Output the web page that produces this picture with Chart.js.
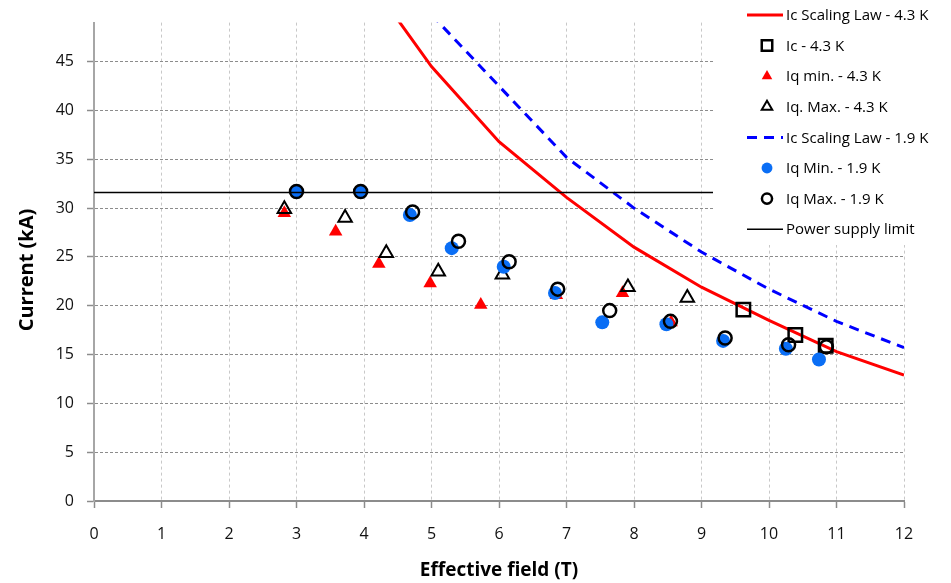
<!DOCTYPE html>
<html>
<head>
<meta charset="utf-8">
<script src="https://cdn.jsdelivr.net/npm/chart.js@4/dist/chart.umd.min.js"></script>
<style>
  body { margin: 0; background: #fff; }
  canvas { display: block; }
</style>
</head>
<body>
<canvas id="fieldChart" width="951" height="583"></canvas>
<script>
// scaling laws (piecewise, one value per tesla)
const law43Field = [4, 5, 6, 7, 8, 9, 10, 11, 12];
const law43Current = [54.1, 44.5, 36.8, 31.1, 26.0, 21.9, 18.5, 15.3, 12.9];
const law19Field = [5, 6, 7, 8, 9, 10, 11, 12];
const law19Current = [49.8, 42.5, 35.2, 30.0, 25.5, 21.7, 18.4, 15.7];

// measured points
const ic43Field = [9.62, 10.39, 10.84];
const ic43Current = [19.6, 17.0, 15.9];
const iqMin43Field = [2.82, 3.58, 4.22, 4.98, 5.73, 6.85, 7.83, 8.55];
const iqMin43Current = [29.5, 27.6, 24.3, 22.3, 20.1, 21.1, 21.3, 18.3];
const iqMax43Field = [2.82, 3.72, 4.33, 5.10, 6.05, 7.91, 8.79];
const iqMax43Current = [29.9, 29.0, 25.4, 23.5, 23.2, 21.9, 20.8];
const iqMin19Field = [3.0, 3.95, 4.68, 5.30, 6.07, 6.83, 7.53, 8.48, 9.32, 10.25, 10.74];
const iqMin19Current = [31.7, 31.7, 29.3, 25.9, 24.0, 21.3, 18.3, 18.1, 16.4, 15.6, 14.5];
const iqMax19Field = [3.0, 3.95, 4.72, 5.40, 6.15, 6.87, 7.64, 8.54, 9.35, 10.29, 10.85];
const iqMax19Current = [31.7, 31.7, 29.6, 26.6, 24.5, 21.7, 19.5, 18.4, 16.7, 16.0, 15.8];
const psField = [0, 12];
const psCurrent = [31.6, 31.6];

const xTicks = [0, 1, 2, 3, 4, 5, 6, 7, 8, 9, 10, 11, 12];
const yTicks = [0, 5, 10, 15, 20, 25, 30, 35, 40, 45];

const pts = (xs, ys) => xs.map((x, i) => ({ x: x, y: ys[i] }));

const datasets = [
  { label: 'Ic Scaling Law - 4.3 K', data: pts(law43Field, law43Current), showLine: true,
    borderColor: '#ff0000', borderWidth: 3, pointRadius: 0 },
  { label: 'Ic - 4.3 K', data: pts(ic43Field, ic43Current), pointStyle: 'rect',
    pointRadius: 9.5, borderColor: '#000', backgroundColor: 'rgba(0,0,0,0)', borderWidth: 2.5 },
  { label: 'Iq min. - 4.3 K', data: pts(iqMin43Field, iqMin43Current), pointStyle: 'triangle',
    pointRadius: 7.8, backgroundColor: '#ff0000', borderColor: '#ff0000', borderWidth: 0 },
  { label: 'Iq. Max. - 4.3 K', data: pts(iqMax43Field, iqMax43Current), pointStyle: 'triangle',
    pointRadius: 7.8, backgroundColor: 'rgba(0,0,0,0)', borderColor: '#000', borderWidth: 2 },
  { label: 'Ic Scaling Law - 1.9 K', data: pts(law19Field, law19Current), showLine: true,
    borderColor: '#0000ff', borderWidth: 3, borderDash: [10, 7], pointRadius: 0 },
  { label: 'Iq Min. - 1.9 K', data: pts(iqMin19Field, iqMin19Current), pointStyle: 'circle',
    pointRadius: 7, backgroundColor: '#0a6ef5', borderColor: '#0a6ef5', borderWidth: 0 },
  { label: 'Iq Max. - 1.9 K', data: pts(iqMax19Field, iqMax19Current), pointStyle: 'circle',
    pointRadius: 6.5, backgroundColor: 'rgba(0,0,0,0)', borderColor: '#000', borderWidth: 2.5 },
  { label: 'Power supply limit', data: pts(psField, psCurrent), showLine: true,
    borderColor: '#000', borderWidth: 1.5, pointRadius: 0 }
];
// excel-like stacking: later series on top
datasets.forEach((d, i) => { d.order = datasets.length - i; d.pointHoverRadius = d.pointRadius; });

const FONT = "'Open Sans', sans-serif";

// legend box + axis titles drawn on top
const overlay = {
  id: 'overlay',
  afterDraw(chart) {
    const ctx = chart.ctx;
    const area = chart.chartArea;
    ctx.save();
    ctx.fillStyle = '#fff';
    ctx.fillRect(713, 0, 238, 245);

    ctx.font = '15px ' + FONT;
    ctx.textBaseline = 'middle';
    ctx.textAlign = 'left';
    chart.data.datasets.forEach((ds, i) => {
      const y = 15 + i * 30.6;
      if (ds.showLine) {
        ctx.save();
        ctx.strokeStyle = ds.borderColor;
        ctx.lineWidth = ds.borderWidth;
        ctx.setLineDash(ds.borderDash || []);
        ctx.beginPath();
        ctx.moveTo(747, y);
        ctx.lineTo(783, y);
        ctx.stroke();
        ctx.restore();
      } else {
        ctx.save();
        ctx.fillStyle = ds.backgroundColor;
        ctx.strokeStyle = ds.borderColor;
        ctx.lineWidth = ds.borderWidth;
        Chart.helpers.drawPoint(ctx, {
          pointStyle: ds.pointStyle, radius: ds.pointRadius * 0.78,
          rotation: 0, borderWidth: ds.borderWidth
        }, 767, y);
        ctx.restore();
      }
      ctx.fillStyle = '#000';
      ctx.fillText(ds.label, 786, y + 1);
    });

    ctx.textAlign = 'center';
    ctx.font = 'bold 19px ' + FONT;
    ctx.fillText('Effective field (T)', (area.left + area.right) / 2, 571);
    ctx.font = 'bold 20px ' + FONT;
    ctx.translate(27, 270);
    ctx.rotate(-Math.PI / 2);
    ctx.fillText('Current (kA)', 0, 0);
    ctx.restore();
  }
};

new Chart(document.getElementById('fieldChart'), {
  type: 'scatter',
  data: { datasets: datasets },
  options: {
    responsive: false,
    animation: false,
    layout: { padding: { top: 16, right: 47, left: 0, bottom: 0 } },
    plugins: { legend: { display: false }, tooltip: { enabled: false } },
    scales: {
      x: {
        type: 'linear', min: 0, max: 12,
        afterFit: (s) => { s.height = 82; },
        afterBuildTicks: (s) => { s.ticks = xTicks.map(v => ({ value: v })); },
        grid: { color: '#c8c8c8', lineWidth: 1, tickColor: '#8c8c8c', tickLength: 7, tickWidth: 1.5 },
        border: { color: '#8c8c8c', width: 2, dash: [3, 3] },
        ticks: { color: '#111', font: { family: FONT, size: 16 }, padding: 17, maxRotation: 0 }
      },
      y: {
        type: 'linear', min: 0, max: 49,
        afterFit: (s) => { s.width = 94; },
        afterBuildTicks: (s) => { s.ticks = yTicks.map(v => ({ value: v })); },
        grid: { color: '#8c8c8c', lineWidth: 1, tickColor: '#8c8c8c', tickLength: 7, tickWidth: 1.5 },
        border: { color: '#a6a6a6', width: 2, dash: [3, 2] },
        ticks: { color: '#111', font: { family: FONT, size: 16 }, padding: 13 }
      }
    }
  },
  plugins: [overlay]
});
</script>
</body>
</html>
